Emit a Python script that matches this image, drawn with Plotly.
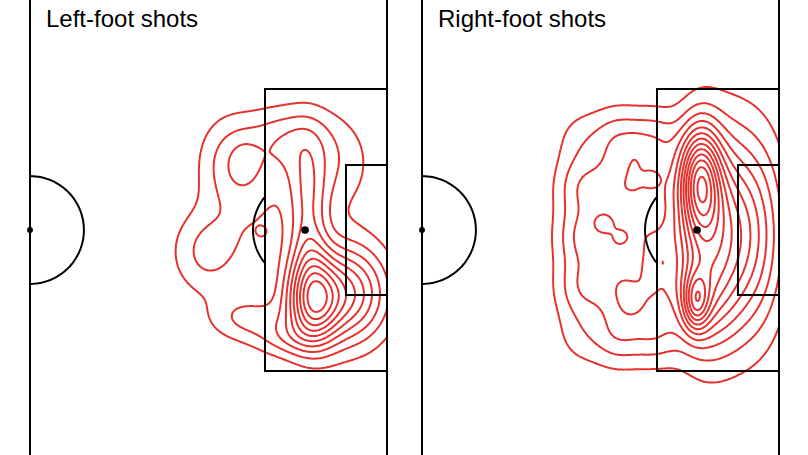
import numpy as np
import plotly.graph_objects as go

# ---------------- data (pitch metres: x from halfway line, y from centre line) -------------
# Shot-density hotspots: centre, spread and intensity
left_x = [40.43, 43.57, 46.00, 39.71, 40.00, 43.57, 37.14, 35.00, 28.29, 25.43, 30.71, 33.14, 36.43, 30.57, 33.14, 34.71]
left_y = [-10.29, -9.29, -8.86, 3.57, -3.57, 9.29, 13.57, 10.00, 9.29, -3.14, -12.57, 1.43, -15.43, 9.71, -0.29, 6.14]
left_sx = [2.43, 5.00, 3.57, 2.00, 2.00, 4.00, 4.29, 3.57, 3.14, 3.57, 3.71, 3.57, 3.14, 1.57, 0.57, 0.29]
left_sy = [4.29, 4.86, 5.00, 6.43, 3.57, 5.00, 3.14, 4.29, 4.86, 4.29, 2.43, 5.71, 2.00, 2.57, 0.57, 0.29]
left_w = [6.4, 3.8, 2.5, 3.0, 1.0, 1.6, 1.6, 1.3, 2.2, 2.3, 2.0, 1.4, 1.6, 0.7, 0.5, 0.3]

right_x = [39.71, 39.71, 43.71, 49.00, 39.14, 39.71,
           22.57, 22.57, 22.57, 22.57, 22.57,
           28.00, 28.00, 28.00, 28.00, 28.00,
           33.29, 33.29, 33.29, 33.29, 33.29,
           28.29, 25.71, 30.00, 32.86, 32.57, 30.43]
right_y = [7.43, -2.86, -0.71, -0.71, -10.29, -10.00,
           12.86, 6.14, -1.00, -8.14, -15.00,
           12.86, 6.14, -1.00, -8.14, -15.00,
           12.86, 6.14, -1.00, -8.14, -15.00,
           -1.00, 1.14, -10.43, 7.43, -5.43, 9.29]
right_sx = [2.00, 2.86, 4.29, 2.57, 1.29, 2.86,
            2.57, 2.57, 2.57, 2.57, 2.57,
            2.57, 2.57, 2.57, 2.57, 2.57,
            2.57, 2.57, 2.57, 2.57, 2.57,
            5.71, 0.86, 1.57, 0.86, 0.86, 1.14]
right_sy = [5.14, 9.29, 10.00, 10.00, 2.86, 4.29,
            3.14, 3.14, 3.14, 3.14, 3.14,
            3.14, 3.14, 3.14, 3.14, 3.14,
            3.14, 3.14, 3.14, 3.14, 3.14,
            11.43, 0.86, 1.86, 0.86, 2.00, 2.57]
right_w = [8.0, 3.0, 6.8, 1.0, 4.5, 1.5,
           1.0, 2.0, 2.1, 2.0, 1.0,
           2.0, 2.0, 2.0, 2.0, 2.0,
           2.0, 2.0, 2.0, 2.0, 2.0,
           1.2, 1.0, 0.9, 0.8, 0.8, 0.6]

titles = ["Left-foot shots", "Right-foot shots"]

# ---------------- pitch geometry ----------------
L = 51.0          # halfway line -> goal line
PD, PW = 17.43, 20.14   # penalty area depth / half width
SD, SW = 5.86, 9.29     # six-yard box depth / half width
PS = 11.71        # penalty spot distance
CR = 7.7          # centre circle radius
DR = 7.43         # penalty arc radius

RED = "rgb(230,50,45)"

gx = np.linspace(-5, L, 281)
gy = np.arange(-34, 34, 0.2)
GX, GY = np.meshgrid(gx, gy)


def density(xs, ys, sxs, sys, ws):
    z = np.zeros_like(GX)
    for x0, y0, sx, sy, w in zip(xs, ys, sxs, sys, ws):
        z += w * np.exp(-((GX - x0) ** 2 / (2 * sx ** 2) + (GY - y0) ** 2 / (2 * sy ** 2)))
    return z


fig = go.Figure()
for i, (xs, ys, sxs, sys, ws) in enumerate([
        (left_x, left_y, left_sx, left_sy, left_w),
        (right_x, right_y, right_sx, right_sy, right_w)]):
    z = density(xs, ys, sxs, sys, ws)
    fig.add_trace(go.Contour(
        x=gx, y=gy, z=z, autocontour=False,
        contours=dict(start=1, end=30, size=1, coloring="lines"),
        colorscale=[[0, RED], [1, RED]], showscale=False,
        line=dict(width=2), hoverinfo="skip",
        xaxis="x" if i == 0 else "x2", yaxis="y" if i == 0 else "y2"))


def arc_path(cx, cy, r, a0, a1, n=60):
    t = np.radians(np.linspace(a0, a1, n))
    pts = [f"{cx + r*np.cos(a):.3f},{cy + r*np.sin(a):.3f}" for a in t]
    return "M " + " L ".join(pts)


shapes = []
for xr, yr in [("x", "y"), ("x2", "y2")]:
    ln = dict(color="black", width=2)
    common = dict(xref=xr, yref=yr, layer="above", line=ln)
    shapes.append(dict(type="line", x0=0, x1=0, y0=-40, y1=40, **common))
    shapes.append(dict(type="line", x0=L, x1=L, y0=-40, y1=40, **common))
    shapes.append(dict(type="path", path=f"M {L},{PW} L {L-PD},{PW} L {L-PD},{-PW} L {L},{-PW}", **common))
    shapes.append(dict(type="path", path=f"M {L},{SW} L {L-SD},{SW} L {L-SD},{-SW} L {L},{-SW}", **common))
    shapes.append(dict(type="path", path=arc_path(0, 0, CR, -90, 90), **common))
    da = np.degrees(np.arccos((PD - PS) / DR))
    shapes.append(dict(type="path", path=arc_path(L - PS, 0, DR, 180 - da, 180 + da), **common))
    for cx, r in [(0, 0.42), (L - PS, 0.55)]:
        shapes.append(dict(type="circle", xref=xr, yref=yr, layer="above",
                           x0=cx - r, x1=cx + r, y0=-r, y1=r,
                           fillcolor="black", line=dict(width=0)))

ann = []
for i, t in enumerate(titles):
    ann.append(dict(text=t, xref="paper", yref="paper",
                    x=(44 + 392 * i) / 808, y=1 - 19 / 455,
                    xanchor="left", yanchor="middle", showarrow=False,
                    font=dict(family="Liberation Sans, Arial, sans-serif", size=24, color="black")))

k = 7.0  # px per metre
fig.update_layout(
    width=808, height=455, margin=dict(l=0, r=0, t=0, b=0),
    paper_bgcolor="white", plot_bgcolor="white", showlegend=False,
    xaxis=dict(domain=[0, 0.5], range=[-30 / k, 374 / k], visible=False, fixedrange=True),
    yaxis=dict(domain=[0, 1], range=[-225 / k, 230 / k], visible=False, fixedrange=True),
    xaxis2=dict(domain=[0.5, 1], range=[-18 / k, 386 / k], visible=False, fixedrange=True),
    yaxis2=dict(domain=[0, 1], range=[-225 / k, 230 / k], visible=False, fixedrange=True, anchor="x2"),
    shapes=shapes, annotations=ann)
fig.write_html("out.html")
